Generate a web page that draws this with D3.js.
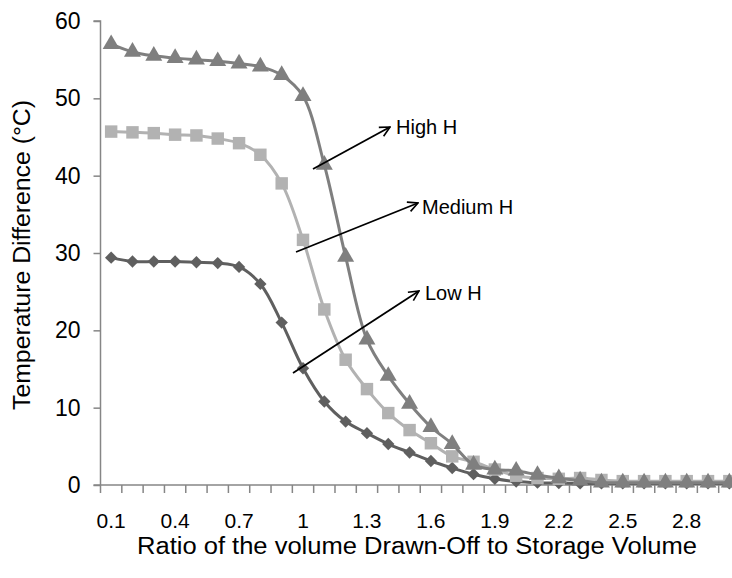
<!DOCTYPE html>
<html><head><meta charset="utf-8">
<script src="https://cdn.jsdelivr.net/npm/d3@7"></script>
<style>body{margin:0;background:#fff}svg{display:block}text{font-family:"Liberation Sans",Arial,sans-serif}</style>
</head><body>
<svg id="c" width="732" height="578"></svg>
<script>
const categories = ["0.1","0.2","0.3","0.4","0.5","0.6","0.7","0.8","0.9","1","1.1","1.2","1.3","1.4","1.5","1.6","1.7","1.8","1.9","2","2.1","2.2","2.3","2.4","2.5","2.6","2.7","2.8","2.9","3"];
const tickLabels = ["0.1","0.4","0.7","1","1.3","1.6","1.9","2.2","2.5","2.8"];
const yTicks = [0,10,20,30,40,50,60];
const highH = [57.0,56.0,55.5,55.2,55.0,54.8,54.5,54.1,53.0,50.3,41.4,29.5,18.8,14.1,10.5,7.5,5.3,2.6,2.0,1.85,1.3,0.87,0.56,0.3,0.3,0.3,0.3,0.3,0.3,0.3];
const mediumH = [45.7,45.6,45.5,45.3,45.2,44.8,44.2,42.7,39.0,31.7,22.7,16.2,12.4,9.3,7.1,5.4,3.7,3.0,2.0,1.2,0.9,0.8,0.9,0.65,0.5,0.5,0.5,0.5,0.5,0.5];
const lowH = [29.4,28.9,28.9,28.9,28.8,28.7,28.2,26.0,21.0,15.1,10.8,8.2,6.7,5.3,4.2,3.1,2.2,1.4,0.8,0.45,0.3,0.25,0.2,0.2,0.2,0.2,0.2,0.2,0.2,0.2];
const seriesNames = ["High H","Medium H","Low H"];

const svg = d3.select("#c");
const x0 = 100.5, x1 = 740, yTop = 21, yBot = 485;
const x = d3.scaleBand().domain(categories).range([x0, x1]);
const y = d3.scaleLinear().domain([0, 60]).range([yBot, yTop]);
const axisCol = "#868686";

// y axis
const ya = svg.append("g").attr("transform", `translate(${x0},0)`)
  .call(d3.axisLeft(y).tickValues(yTicks).tickSize(7).tickPadding(13));
ya.select(".domain").attr("stroke", axisCol).attr("stroke-width", 1.5).attr("d", `M-7,${yTop}H0V${yBot}`);
ya.selectAll(".tick line").attr("stroke", axisCol).attr("stroke-width", 1.5);
ya.selectAll("text").attr("font-size", 23).attr("fill", "#000").attr("font-family", "Liberation Sans, Arial, sans-serif");

// x axis
const xa = svg.append("g").attr("transform", `translate(0,${yBot})`);
xa.append("line").attr("x1", x0 - 7).attr("x2", x1).attr("y1", 0).attr("y2", 0).attr("stroke", axisCol).attr("stroke-width", 1.5);
xa.selectAll("line.tk").data(categories.concat(["end"])).join("line").attr("class", "tk")
  .attr("x1", (d, i) => x0 + i * x.bandwidth()).attr("x2", (d, i) => x0 + i * x.bandwidth())
  .attr("y1", 0).attr("y2", 8).attr("stroke", axisCol).attr("stroke-width", 1.5);
xa.selectAll("text").data(tickLabels).join("text")
  .attr("x", d => x(categories.find(c => c === d)) + x.bandwidth() / 2)
  .attr("y", 43).attr("text-anchor", "middle").attr("font-size", 21).text(d => d);

// titles
svg.append("text").attr("x", 417).attr("y", 554).attr("text-anchor", "middle").attr("font-size", 23)
  .attr("textLength", 560).attr("lengthAdjust", "spacingAndGlyphs")
  .text("Ratio of the volume Drawn-Off to Storage Volume");
svg.append("text").attr("transform", "translate(30,255) rotate(-90)").attr("text-anchor", "middle").attr("font-size", 23)
  .attr("textLength", 310).attr("lengthAdjust", "spacingAndGlyphs")
  .text("Temperature Difference (\u00B0C)");

const cx = d => x(d) + x.bandwidth() / 2;
const line = d3.line().x(d => cx(d.c)).y(d => y(d.v)).curve(d3.curveCatmullRom.alpha(0.5));
const mk = arr => categories.map((c, i) => ({ c, v: arr[i] }));

const plot = svg.append("g");
function drawSeries(arr, col, sym, size) {
  const data = mk(arr);
  plot.append("path").datum(data).attr("d", line).attr("fill", "none").attr("stroke", col).attr("stroke-width", 3);
  plot.selectAll(null).data(data).join("path")
    .attr("transform", d => `translate(${cx(d.c)},${y(d.v)})`)
    .attr("d", d3.symbol().type(sym).size(size)).attr("fill", col);
}
const diamond = { draw(ctx, s) { const r = Math.sqrt(s) / 2 * 1.15; ctx.moveTo(0, -r); ctx.lineTo(r, 0); ctx.lineTo(0, r); ctx.lineTo(-r, 0); ctx.closePath(); } };
drawSeries(lowH, "#5f5f5f", diamond, 115);
drawSeries(mediumH, "#b2b2b2", d3.symbolSquare, 155);
drawSeries(highH, "#7f7f7f", d3.symbolTriangle, 125);

// annotations
const ann = [
  { name: seriesNames[0], from: [313, 169], to: [390, 127], tx: 396, ty: 134 },
  { name: seriesNames[1], from: [296, 252], to: [418, 203], tx: 422, ty: 214 },
  { name: seriesNames[2], from: [293, 373], to: [419, 291], tx: 425, ty: 300 }
];
svg.append("defs").append("marker").attr("id", "ah").attr("viewBox", "0 0 12 12").attr("refX", 11).attr("refY", 6)
  .attr("markerWidth", 12).attr("markerHeight", 12).attr("markerUnits", "userSpaceOnUse").attr("orient", "auto")
  .append("path").attr("d", "M1,1L11,6L1,11").attr("fill", "none").attr("stroke", "#000").attr("stroke-width", 1.6);
ann.forEach(a => {
  svg.append("line").attr("x1", a.from[0]).attr("y1", a.from[1]).attr("x2", a.to[0]).attr("y2", a.to[1])
    .attr("stroke", "#000").attr("stroke-width", 1.8).attr("marker-end", "url(#ah)");
  svg.append("text").attr("x", a.tx).attr("y", a.ty).attr("font-size", 20).text(a.name);
});
</script>
</body></html>
